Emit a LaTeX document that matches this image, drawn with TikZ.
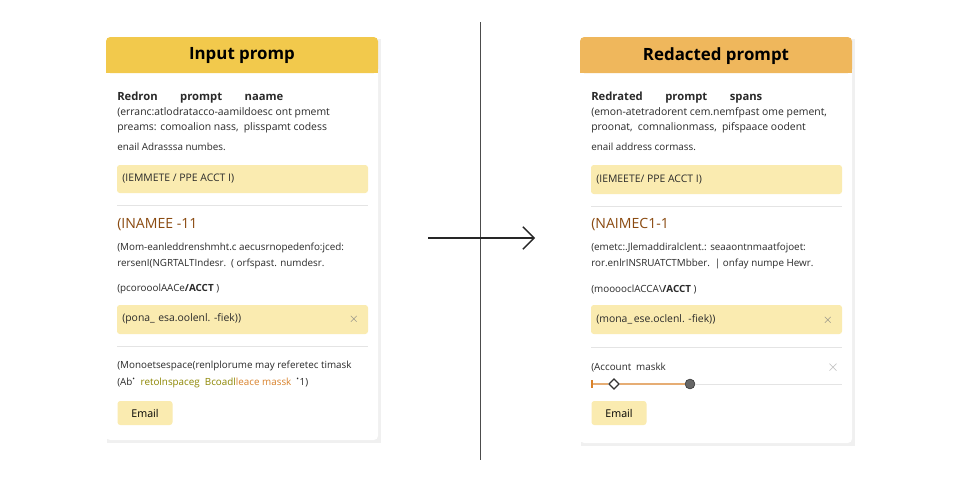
\documentclass[tikz,border=0pt]{standalone}
\usepackage{fontspec}
\setmainfont{Open Sans}
\usetikzlibrary{positioning,arrows.meta}
\definecolor{hdrA}{HTML}{F2C94C}
\definecolor{hdrB}{HTML}{EFB75C}
\definecolor{fillY}{HTML}{FAEBB0}
\definecolor{txtD}{HTML}{2A2A2A}
\definecolor{brn}{HTML}{8A4A10}
\definecolor{sep}{HTML}{E4E4E4}
\definecolor{org}{HTML}{D9822B}
\tikzset{
  body/.style={anchor=west,inner sep=0pt,font=\fontsize{7.4}{9}\selectfont,text=txtD},
  small/.style={body,font=\fontsize{7}{8}\selectfont},
  bold/.style={body,font=\fontsize{8}{10}\selectfont\bfseries},
  tag/.style={body,font=\fontsize{10}{12}\selectfont,text=brn},
  title/.style={inner sep=0pt,font=\fontsize{12}{14}\selectfont\bfseries,text=black},
  chip/.style={fill=fillY,rounded corners=2pt},
  xmark/.style={inner sep=0pt,font=\fontsize{9}{10}\selectfont,text=gray},
  btn/.style={fill=fillY,rounded corners=2pt,inner sep=0pt,minimum width=55*0.025cm,minimum height=24*0.025cm,font=\fontsize{7.6}{9}\selectfont,text=black}
}
\begin{document}
\begin{tikzpicture}[x=0.025cm,y=-0.025cm]
\useasboundingbox[fill=white] (0,0) rectangle (960,480);

% left card
\fill[black!6] (107,39) rectangle (381,443);
\fill[white,rounded corners=3pt] (106,37) rectangle (378,440);
\fill[hdrA,rounded corners=3pt] (106,37) rectangle (378,73);
\fill[hdrA] (106,60) rectangle (378,73);
\node[title] (inT) at (242,56) {Input promp};
\node[bold] (in1) at (117,98) {Redron\hspace{2em}prompt\hspace{2em}naame};
\node[body] (in2) at (117,113) {(erranc:atlodratacco-aamildoesc ont pmemt};
\node[body] (in3) at (117,128) {preams: comoalion nass,\enspace plisspamt codess};
\node[small] (in4) at (117,147) {enail Adrasssa numbes.};
\fill[chip] (117,165) rectangle (368,193);
\node[body] (inC1) at (122,179) {(IEMMETE / PPE ACCT I)};
\draw[sep] (117,205) -- (368,205);
\node[tag] (inN) at (117,225) {(INAMEE -11};
\node[small] (in5) at (117,248) {(Mom-eanleddrenshmht.c aecusrnopedenfo:jced:};
\node[small] (in6) at (117,264) {rersenI(NGRTALTIndesr.\enspace( orfspast. numdesr.};
\node[small] (in7) at (117,289) {(pcorooolAACe{\bfseries/ACCT} )};
\fill[chip] (117,305) rectangle (368,334);
\node[body] (inC2) at (122,319) {(pona\_\,\,esa.oolenl. -fiek))};
\node[xmark] (inX) at (354,319) {$\times$};
\draw[sep] (117,346) -- (368,346);
\node[small] (in8) at (117,366) {(Monoetsespace(renlplorume may referetec timask};
\node[small] (in9) at (117,383) {(Ab\textsuperscript{\tiny\textbullet}\enspace\textcolor{olive}{retolnspaceg ~Bcoadl}\textcolor{org}{leace massk}\enspace\textsuperscript{\tiny\textbullet}1)};
\node[btn] (inE) at (145,413) {Email};

% divider and arrow
\coordinate (dTop) at (480,22);
\coordinate (dBot) at (480,460);
\draw[black!70,line width=0.6pt] (dTop) -- (dBot);
\coordinate (aL) at (428,238);
\coordinate (aR) at (535,238);
\draw[black!85,line width=0.9pt,-{Straight Barb[length=8pt,width=16pt]}] (aL) -- (aR);

% right card
\fill[black!6] (581,39) rectangle (855,446);
\fill[white,rounded corners=3pt] (580,37) rectangle (852,443);
\fill[hdrB,rounded corners=3pt] (580,37) rectangle (852,73);
\fill[hdrB] (580,60) rectangle (852,73);
\node[title] (outT) at (716,56) {Redacted prompt};
\node[bold] (out1) at (591,98) {Redrated\hspace{2em}prompt\hspace{2em}spans};
\node[body] (out2) at (591,113) {(emon-atetradorent cem.nemfpast ome pement,};
\node[body] (out3) at (591,128) {proonat,\enspace comnalionmass,\enspace pifspaace oodent};
\node[small] (out4) at (591,147) {enail address cormass.};
\fill[chip] (591,165) rectangle (842,194);
\node[body] (outC1) at (596,180) {(IEMEETE/ PPE ACCT I)};
\draw[sep] (591,206) -- (842,206);
\node[tag] (outN) at (591,225) {(NAIMEC1-1};
\node[small] (out5) at (591,248) {(emetc:.Jlemaddiralclent.: seaaontnmaatfojoet:};
\node[small] (out6) at (591,264) {ror.enlrINSRUATCTMbber.\enspace| onfay numpe Hewr.};
\node[small] (out7) at (591,290) {(mooooclACCA\textbackslash{\bfseries/ACCT} )};
\fill[chip] (591,305) rectangle (842,334);
\node[body] (outC2) at (596,319) {(mona\_\,ese.oclenl. -fiek))};
\node[xmark] (outX) at (828,320) {$\times$};
\draw[sep] (591,347) -- (842,347);
\node[small] (out8) at (591,368) {(Account\enspace maskk};
\node[xmark,text=black!30,font=\fontsize{11}{12}\selectfont] (outX2) at (833,368) {$\times$};
\coordinate (sA) at (592,384);
\node[draw=black!80,fill=white,line width=0.8pt,inner sep=0pt,minimum size=5pt,rotate=45] (sK) at (614,384) {};
\node[circle,fill=black!60,draw=black!80,inner sep=0pt,minimum size=7pt] (sB) at (690,384) {};
\coordinate (sE) at (842,384);
\draw[sep,line width=0.6pt] (sB) -- (sE);
\draw[org,line width=0.8pt] (sA) -- (sK) -- (sB);
\draw[org,line width=0.8pt] (592,380) -- (592,388);
\node[btn] (outE) at (619,413) {Email};
\end{tikzpicture}
\end{document}
